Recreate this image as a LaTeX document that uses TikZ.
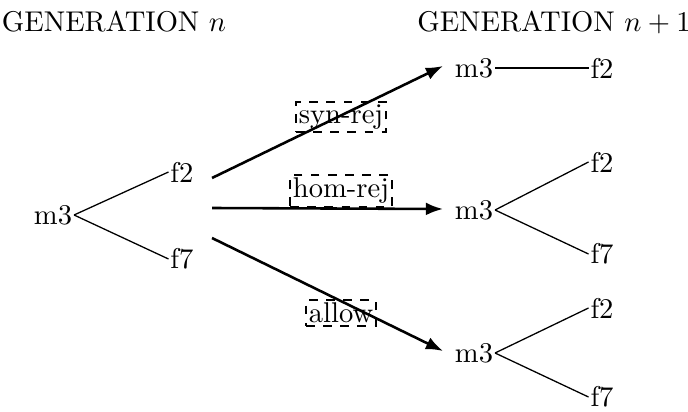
\documentclass[tikz,border=0pt]{standalone}
\usetikzlibrary{arrows.meta}
\begin{document}
\begin{tikzpicture}[x=0.35pt,y=-0.35pt,
  lbl/.style={inner sep=0.5pt},
  thinline/.style={line width=0.45pt},
  trans/.style={line width=0.9pt,-{Latex[length=6pt,width=4.5pt]}},
  tag/.style={draw,dashed,line width=0.6pt,inner sep=1pt,fill=none}]
\useasboundingbox (0,0) rectangle (688,412);
\node[lbl] (gn) at (114,22) {GENERATION $n$};
\node[lbl] (gn1) at (554,22) {GENERATION $n+1$};
% left tree
\node[lbl] (m) at (53,215) {m3};
\node[lbl] (mf2) at (182,172) {f2};
\node[lbl] (mf7) at (182,259) {f7};
\draw[thinline] (m.east) -- (mf2.west);
\draw[thinline] (m.east) -- (mf7.west);
% right top
\node[lbl] (a) at (474,68) {m3};
\node[lbl] (af2) at (602,68) {f2};
\draw[line width=0.9pt] (a.east) -- (af2.west);
% right middle
\node[lbl] (b) at (474,210) {m3};
\node[lbl] (bf2) at (602,162) {f2};
\node[lbl] (bf7) at (602,254) {f7};
\draw[thinline] (b.east) -- (bf2.west);
\draw[thinline] (b.east) -- (bf7.west);
% right bottom
\node[lbl] (c) at (474,353) {m3};
\node[lbl] (cf2) at (602,308) {f2};
\node[lbl] (cf7) at (602,397) {f7};
\draw[thinline] (c.east) -- (cf2.west);
\draw[thinline] (c.east) -- (cf7.west);
% transitions
\coordinate (s1) at (212,178);
\coordinate (s2) at (212,208);
\coordinate (s3) at (212,238);
\coordinate (e1) at (443,66);
\coordinate (e2) at (443,209);
\coordinate (e3) at (443,351);
\draw[trans] (s1) -- (e1);
\draw[trans] (s2) -- (e2);
\draw[trans] (s3) -- (e3);
\node[tag] (t1) at (341,117) {syn-rej};
\node[tag] (t2) at (341,191) {hom-rej};
\node[tag] (t3) at (341,313) {allow};
\end{tikzpicture}
\end{document}
